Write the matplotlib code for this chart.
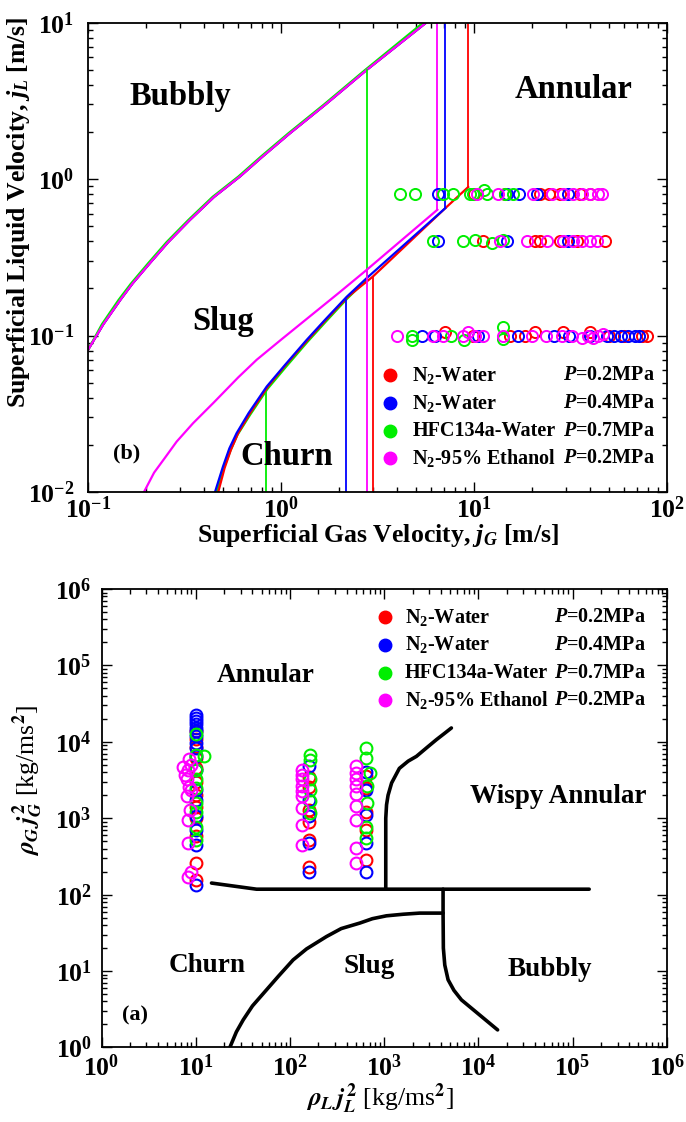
import numpy as np
import matplotlib
matplotlib.use("Agg")
import matplotlib.pyplot as plt
from matplotlib.ticker import LogLocator, FuncFormatter, NullFormatter

plt.rcParams.update({
    "font.family": ["Liberation Serif", "DejaVu Serif"],
    "font.weight": "bold",
    "mathtext.fontset": "custom",
    "mathtext.rm": "Liberation Serif:bold",
    "mathtext.bf": "Liberation Serif:bold",
    "mathtext.it": "Liberation Serif:bold:italic",
})

# ---------- legend / series ----------
NAMES = ["N$_2$-Water", "N$_2$-Water", "HFC134a-Water", "N$_2$-95% Ethanol"]
PRESS = ["0.2MPa", "0.4MPa", "0.7MPa", "0.2MPa"]
COLORS = ["#ff0000", "#0000ff", "#00ee00", "#ff00ff"]

# ---------- (b) jG - jL map: measured points ----------
jg_red = [10.0, 14.5, 22.0, 24.6, 28.0, 35.4, 40.0,
          11.1, 20.8, 21.9, 28.0, 34.0, 47.6,
          7.1, 9.9, 15.3, 18.4, 20.8, 28.9, 39.9, 50.0, 60.0, 74.0, 78.8]
jl_red = [0.8, 0.8, 0.8, 0.8, 0.8, 0.8, 0.8,
          0.4, 0.4, 0.4, 0.4, 0.4, 0.4,
          0.106, 0.1, 0.1, 0.1, 0.106, 0.106, 0.106, 0.1, 0.1, 0.1, 0.1]
jg_blue = [6.5, 14.9, 17.2, 21.3, 30.7,
           6.5, 14.9, 30.7,
           5.4, 6.3, 10.5, 17.0, 26.1, 31.0, 40.0, 48.6, 53.1, 57.8, 62.5, 68.1, 71.8]
jl_blue = [0.8, 0.8, 0.8, 0.8, 0.8,
           0.4, 0.4, 0.4,
           0.1, 0.1, 0.1, 0.1, 0.1, 0.1, 0.1, 0.1, 0.1, 0.1, 0.1, 0.1, 0.1]
jg_green = [4.14, 4.94, 6.9, 7.8, 9.5, 9.9, 11.2, 11.7, 14.5, 15.9,
            6.14, 8.77, 10.1, 12.4, 14.1,
            4.75, 4.75, 7.6, 8.9, 14.1, 14.1]
jl_green = [0.8, 0.8, 0.8, 0.8, 0.8, 0.8, 0.85, 0.8, 0.8, 0.8,
            0.4, 0.4, 0.41, 0.39, 0.41,
            0.1, 0.093, 0.1, 0.094, 0.113, 0.095]
jg_mag = [10.4, 13.3, 20.1, 25.4, 28.9, 32.6, 36.3, 39.9, 43.8, 45.9,
          13.6, 18.8, 24.0, 28.9, 32.6, 36.3, 39.9, 43.3,
          3.97, 6.14, 6.9, 8.77, 9.3, 10.1, 11.1, 14.1, 19.9, 23.7, 28.6,
          32.2, 36.3, 38.9, 41.3, 43.8, 46.4]
jl_mag = [0.8] * 10 + [0.4] * 8 + \
         [0.1, 0.1, 0.1, 0.1, 0.105, 0.1, 0.1, 0.1, 0.1, 0.1, 0.1,
          0.1, 0.097, 0.1, 0.097, 0.1, 0.102]

# ---------- (b) transition lines ----------
bub_x = [0.1, 0.12, 0.147, 0.17, 0.209, 0.26, 0.337, 0.45, 0.613, 0.8, 1.11, 1.7, 2.78, 5.65]
bub_y = [0.081, 0.118, 0.169, 0.215, 0.29, 0.395, 0.548, 0.77, 1.04, 1.39, 1.96, 3.0, 4.99, 10.0]
bub_x_green = [0.1, 0.118, 0.144, 0.167, 0.205, 0.255, 0.331, 0.442, 0.602, 0.785, 1.09, 1.67, 2.73, 5.45]

slug_x_red = [0.473, 0.51, 0.55, 0.60, 0.69, 0.855, 1.06, 1.38, 1.72, 2.22, 2.99, 7.1, 9.33]
slug_y_red = [0.01, 0.0142, 0.0186, 0.0238, 0.0318, 0.0472, 0.065, 0.094, 0.127, 0.177, 0.238, 0.652, 0.89]
slug_x_blue = [0.455, 0.50, 0.54, 0.589, 0.68, 0.843, 1.05, 1.36, 1.7, 2.19, 2.78, 7.1]
slug_y_blue = [0.01, 0.0145, 0.019, 0.0238, 0.032, 0.0472, 0.065, 0.094, 0.127, 0.177, 0.233, 0.652]
slug_x_green = [0.464, 0.505, 0.548, 0.595, 0.69, 0.85, 1.06, 1.37, 1.71, 2.2, 2.78]
slug_y_green = [0.01, 0.0142, 0.0185, 0.0232, 0.031, 0.0455, 0.063, 0.091, 0.123, 0.172, 0.228]
slug_x_mag = [0.195, 0.22, 0.25, 0.288, 0.35, 0.45, 0.6, 0.748, 1.0, 1.5, 2.0, 2.78, 6.46]
slug_y_mag = [0.01, 0.0133, 0.0165, 0.021, 0.0275, 0.0375, 0.054, 0.070, 0.094, 0.141, 0.188, 0.263, 0.637]

# vertical segments: (x, y_low, y_high)
vert_red = [(9.33, 0.89, 10.0), (2.99, 0.01, 0.238)]
vert_blue = [(7.1, 0.652, 10.0), (2.17, 0.01, 0.169)]
vert_green = [(2.78, 0.228, 4.99), (0.834, 0.01, 0.045)]
vert_mag = [(6.46, 0.637, 10.0), (2.78, 0.01, 0.263)]

# ---------- (a) momentum flux map: measured points ----------
xa_red = [10] * 12 + [160] * 6 + [640] * 5
ya_red = [14000, 11000, 8500, 6200, 4500, 3000, 2000, 1400, 1000, 580, 260, 157,
          3500, 2600, 1300, 900, 520, 233,
          3600, 2500, 1200, 700, 285]
xa_blue = [10] * 17 + [158] * 5 + [640] * 5
ya_blue = [22800, 20600, 18600, 16900, 15200, 13800, 11800, 9700, 8340, 6470,
           4340, 2370, 1750, 1060, 710, 451, 135,
           4780, 1750, 1060, 475, 201,
           4000, 2370, 1120, 475, 201]
xa_green = [10, 10, 12.2, 10, 10, 10, 10, 10, 10, 10,
            162, 165, 162, 162, 162, 162,
            640, 645, 700, 650, 650, 640, 645]
ya_green = [12500, 6780, 6470, 4340, 3250, 2500, 1590, 1220, 780, 520,
            6780, 5800, 3250, 2370, 1670, 1170,
            8340, 6150, 3900, 2620, 1590, 780, 550]
xa_mag = [8.5, 9.0, 7.4, 8.2, 7.6, 8.0, 8.4, 8.8, 8.0, 8.6, 8.3, 8.2, 8.8, 8.2,
          133, 133, 133, 133, 133, 133, 133, 133, 133,
          508, 508, 508, 508, 508, 508, 508, 508, 508]
ya_mag = [5900, 5000, 4700, 4300, 3700, 3300, 2600, 2350, 1950, 1300, 950, 470, 200, 170,
          4340, 3720, 3250, 2620, 2280, 1940, 1370, 820, 451,
          4780, 3900, 3250, 2620, 2100, 1430, 960, 410, 260]

# ---------- (a) transition lines ----------
ca_x = [14.7, 44.2, 1.5e5]                 # churn / annular
ca_y = [142, 118, 118]
aw_x = [1040, 1040, 1060, 1100, 1200, 1450, 1800, 2200, 2900, 3590, 4400, 5170]   # annular / wispy
aw_y = [118, 1000, 1500, 2000, 2900, 4500, 5600, 6460, 8600, 10700, 13000, 15200]
sb_x = [4220, 4220, 4250, 4400, 4770, 5500, 6610, 16000]       # slug / bubbly
sb_y = [118, 57.4, 20, 12, 7.7, 5.6, 4.2, 1.7]
cs_x = [23, 27, 31.9, 40, 56.5, 75, 108, 150, 244, 350, 551, 750, 1057, 1600, 2380, 4220]   # churn / slug
cs_y = [1.0, 1.6, 2.3, 3.5, 5.7, 8.5, 14, 19.5, 28.3, 36, 42.5, 48.5, 52.9, 55.5, 57.4, 57.4]


def style_log_axis(ax, xpad, ypad):
    ax.set_xscale("log"); ax.set_yscale("log")
    fmt = FuncFormatter(lambda v, p: r"$\mathbf{10^{%d}}$" % round(np.log10(v)))
    for axis in (ax.xaxis, ax.yaxis):
        axis.set_major_locator(LogLocator(base=10, numticks=20))
        axis.set_minor_locator(LogLocator(base=10, subs=np.arange(2, 10), numticks=100))
        axis.set_major_formatter(fmt)
        axis.set_minor_formatter(NullFormatter())
    ax.tick_params(which="both", direction="in", top=True, right=True, labelsize=18.5, width=1.0)
    ax.tick_params(which="major", length=7)
    ax.tick_params(axis="x", which="major", pad=xpad)
    ax.tick_params(axis="y", which="major", pad=ypad)
    ax.tick_params(which="minor", length=3.5)
    for s in ax.spines.values():
        s.set_linewidth(1.3)


def legend_block(ax, x_mark, x_name, x_p, ys):
    for i in range(4):
        ax.plot(x_mark, ys[i], "o", color=COLORS[i], ms=9, transform=ax.transAxes, clip_on=False)
        ax.text(x_name, ys[i], NAMES[i], transform=ax.transAxes, fontsize=14.5, va="center")
        ax.text(x_p, ys[i], "$P$=" + PRESS[i], transform=ax.transAxes, fontsize=14.5, va="center")


fig = plt.figure(figsize=(6.86, 11.22), dpi=100)

# ================= (b) =================
axb = fig.add_axes([0.1283, 0.5615, 0.844, 0.4183])
style_log_axis(axb, 3, 10)
axb.set_xlim(0.1, 100); axb.set_ylim(0.01, 10)

axb.plot(bub_x, bub_y, "-", color=COLORS[0], lw=1.6)
axb.plot(bub_x, bub_y, "-", color=COLORS[1], lw=1.6)
axb.plot(bub_x_green, bub_y, "-", color=COLORS[2], lw=1.6)
axb.plot(bub_x, bub_y, "-", color=COLORS[3], lw=1.6)

for (sx, sy, verts, c) in [(slug_x_green, slug_y_green, vert_green, COLORS[2]),
                           (slug_x_red, slug_y_red, vert_red, COLORS[0]),
                           (slug_x_blue, slug_y_blue, vert_blue, COLORS[1]),
                           (slug_x_mag, slug_y_mag, vert_mag, COLORS[3])]:
    axb.plot(sx, sy, "-", color=c, lw=1.6)
    for (vx, y0, y1) in verts:
        axb.plot([vx, vx], [y0, y1], "-", color=c, lw=1.3)

for jg, jl, c in [(jg_red, jl_red, COLORS[0]), (jg_blue, jl_blue, COLORS[1]),
                  (jg_green, jl_green, COLORS[2]), (jg_mag, jl_mag, COLORS[3])]:
    axb.plot(jg, jl, "o", mfc="none", mec=c, ms=8, mew=1.4, ls="none")

for txt, x, y in [("Bubbly", 0.071, 0.825), ("Annular", 0.737, 0.839),
                  ("Slug", 0.180, 0.345), ("Churn", 0.264, 0.057)]:
    axb.text(x, y, txt, transform=axb.transAxes, fontsize=23.5, va="baseline")
axb.text(0.043, 0.072, "(b)", transform=axb.transAxes, fontsize=16, va="baseline")
legend_block(axb, 0.522, 0.560, 0.820, [0.249, 0.189, 0.130, 0.072])

axb.text(0.501, -0.092, "Superficial Gas Velocity, $j_G$ [m/s]", transform=axb.transAxes,
         fontsize=18.5, ha="center", va="center")
axb.text(-0.120, 0.597, "Superficial Liquid Velocity, $j_L$ [m/s]", transform=axb.transAxes,
         fontsize=18.5, ha="center", va="center", rotation=90)

# ================= (a) =================
axa = fig.add_axes([0.148, 0.0664, 0.824, 0.4086])
style_log_axis(axa, 5, 7)
axa.set_xlim(1, 1e6); axa.set_ylim(1, 1e6)

for lx, ly in [(ca_x, ca_y), (aw_x, aw_y), (sb_x, sb_y), (cs_x, cs_y)]:
    axa.plot(lx, ly, "-", color="black", lw=2.6, solid_capstyle="round")

for xa, ya, c in [(xa_red, ya_red, COLORS[0]), (xa_blue, ya_blue, COLORS[1]),
                  (xa_green, ya_green, COLORS[2]), (xa_mag, ya_mag, COLORS[3])]:
    axa.plot(xa, ya, "o", mfc="none", mec=c, ms=8.5, mew=1.5, ls="none")

for txt, x, y in [("Annular", 0.204, 0.798), ("Wispy Annular", 0.652, 0.533),
                  ("Churn", 0.118, 0.165), ("Slug", 0.428, 0.162), ("Bubbly", 0.719, 0.157)]:
    axa.text(x, y, txt, transform=axa.transAxes, fontsize=19.5, va="baseline")
axa.text(0.036, 0.060, "(a)", transform=axa.transAxes, fontsize=16, va="baseline")
legend_block(axa, 0.501, 0.537, 0.800, [0.938, 0.878, 0.816, 0.758])

axa.text(0.4925, -0.112, r"$\rho_L\, j_L^2$ [kg/ms$^2$]", transform=axa.transAxes,
         fontsize=18.5, fontweight="normal", ha="center", va="center", math_fontfamily="stix")
axa.text(-0.130, 0.583, r"$\rho_G\, j_G^2$ [kg/ms$^2$]", transform=axa.transAxes,
         fontsize=18.5, fontweight="normal", ha="center", va="center", rotation=90,
         math_fontfamily="stix")

fig.savefig("out.png", dpi=100)
